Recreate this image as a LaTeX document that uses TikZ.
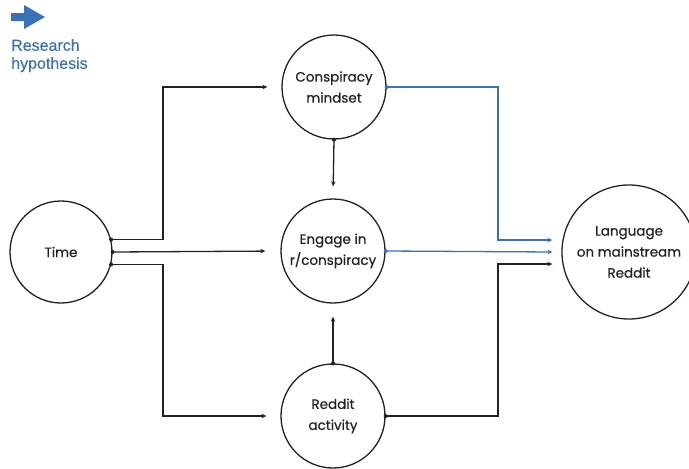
\documentclass[tikz,border=0pt]{standalone}
\usepackage{fontspec}
\setmainfont{Poppins}
\newfontfamily\nodefont{Poppins}[FakeBold=0.6]
\newfontfamily\legendfont{Liberation Sans}[FakeBold=0.4]
\usetikzlibrary{arrows.meta,calc}
\definecolor{hypblue}{HTML}{3A71B8}
\definecolor{ink}{HTML}{222222}

\begin{document}
\begin{tikzpicture}[x=1pt, y=-1pt,
  var/.style={circle, draw=ink, line width=1.3pt, text=ink, align=center,
    font=\nodefont\fontsize{13.5}{21}\selectfont, inner sep=0pt},
  conn/.style={draw=ink, line width=1.3pt, -{Stealth[length=5pt,width=4.5pt]}},
  hyp/.style={conn, draw=hypblue}
]

\useasboundingbox (0, 0) rectangle (689, 469);

% legend
\fill[hypblue] (11, 13) -- (24, 13) -- (24, 5) -- (45, 17) -- (24, 29) -- (24, 21) -- (11, 21) -- cycle;
\node[anchor=north west, inner sep=0pt, text=hypblue, align=left,
  font=\legendfont\fontsize{16}{18}\selectfont] (legend) at (11, 39) {Research\\hypothesis};

% variables
\node[var, minimum size=102pt] (time) at (61, 252) {Time};
\node[var, minimum size=104pt] (mindset) at (334, 87) {Conspiracy\\mindset};
\node[var, minimum size=104pt] (engage) at (333, 251) {Engage in\\r/conspiracy};
\node[var, minimum size=104pt] (activity) at (333, 416) {Reddit\\activity};
\node[var, minimum size=134pt] (lang) at (629, 252) {Language\\on mainstream\\Reddit};

\coordinate (splitL) at (163, 0);
\coordinate (splitR) at (498, 0);
\coordinate (hypIn) at ($(lang.west) + (-9, -12)$);
\coordinate (engIn) at ($(lang.west) + (-9, 0)$);
\coordinate (actIn) at ($(lang.west) + (-9, 12)$);

% start dots
\foreach \a in {time.14, time.east, time.-14, mindset.south, activity.north, activity.east}
  \fill[ink] (\a) circle (2);
\foreach \a in {mindset.east, engage.east}
  \fill[hypblue] (\a) circle (2);

% time paths
\draw[conn, shorten >=14pt] (time.14) -- (time.14 -| splitL) |- (mindset.west);
\draw[conn, shorten >=15pt] (time.east) -- (engage.west);
\draw[conn, shorten >=14pt] (time.-14) -- (time.-14 -| splitL) |- (activity.west);

% into engagement
\draw[conn, shorten >=12pt] (mindset.south) -- (engage.north);
\draw[conn, shorten >=13pt] (activity.north) -- (engage.south);

% into language
\draw[hyp] (mindset.east) -- (mindset.east -| splitR) |- (hypIn);
\draw[hyp] (engage.east) -- (engIn);
\draw[conn] (activity.east) -- (activity.east -| splitR) |- (actIn);

\end{tikzpicture}
\end{document}
